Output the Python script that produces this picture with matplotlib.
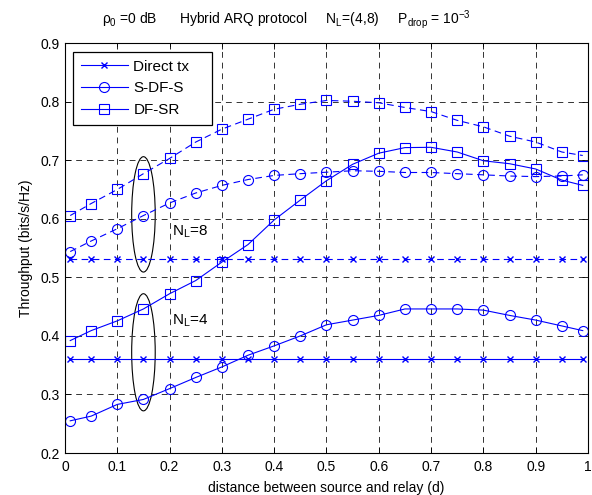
import matplotlib
matplotlib.use("Agg")
import matplotlib.pyplot as plt
from matplotlib.patches import Ellipse

plt.rcParams['font.family'] = ['Liberation Sans', 'DejaVu Sans']
plt.rcParams['mathtext.fontset'] = 'custom'
plt.rcParams['mathtext.rm'] = 'Liberation Sans'
plt.rcParams['mathtext.it'] = 'Liberation Sans'

d = [0.01, 0.05, 0.1, 0.15, 0.2, 0.25, 0.3, 0.35, 0.4, 0.45, 0.5,
     0.55, 0.6, 0.65, 0.7, 0.75, 0.8, 0.85, 0.9, 0.95, 0.99]

direct_4 = [0.36] * 21
direct_8 = [0.531] * 21

sdfs_4 = [0.255, 0.263, 0.283, 0.2915, 0.310, 0.329, 0.347, 0.367, 0.383, 0.400, 0.419,
          0.427, 0.435, 0.446, 0.446, 0.446, 0.444, 0.435, 0.427, 0.417, 0.409]
sdfs_8 = [0.544, 0.562, 0.583, 0.6055, 0.627, 0.644, 0.657, 0.667, 0.674, 0.677, 0.6795,
          0.682, 0.681, 0.679, 0.679, 0.677, 0.675, 0.673, 0.672, 0.673, 0.675]
dfsr_4 = [0.392, 0.409, 0.4257, 0.446, 0.472, 0.4945, 0.526, 0.556, 0.598, 0.632, 0.665,
          0.693, 0.712, 0.7215, 0.722, 0.714, 0.699, 0.694, 0.685, 0.666, 0.657]
dfsr_8 = [0.6055, 0.626, 0.650, 0.677, 0.703, 0.731, 0.753, 0.770, 0.787, 0.7955, 0.802,
          0.8007, 0.798, 0.790, 0.783, 0.768, 0.757, 0.741, 0.731, 0.714, 0.708]

xticks = [0, 0.1, 0.2, 0.3, 0.4, 0.5, 0.6, 0.7, 0.8, 0.9, 1]
yticks = [0.2, 0.3, 0.4, 0.5, 0.6, 0.7, 0.8, 0.9]

blue = (0, 0, 1)
fig = plt.figure(figsize=(5.92, 4.95), dpi=100)
ax = fig.add_axes([0.1098, 0.0848, 0.8834, 0.8282])

lw = 0.8
ms_o = 7.2
ms_s = 7.2
ms_x = 4
dash = (0, (6, 4))

ax.plot(d, direct_4, color=blue, lw=lw, marker='x', ms=ms_x, label='Direct tx')
ax.plot(d, sdfs_4, color=blue, lw=lw, marker='o', ms=ms_o, mfc='none', mew=0.8, label='S-DF-S')
ax.plot(d, dfsr_4, color=blue, lw=lw, marker='s', ms=ms_s, mfc='none', mew=0.8, label='DF-SR')
ax.plot(d, direct_8, color=blue, lw=lw, ls=dash, marker='x', ms=ms_x)
ax.plot(d, sdfs_8, color=blue, lw=lw, ls=dash, marker='o', ms=ms_o, mfc='none', mew=0.8)
ax.plot(d, dfsr_8, color=blue, lw=lw, ls=dash, marker='s', ms=ms_s, mfc='none', mew=0.8)

ax.add_patch(Ellipse((0.15, 0.6075), 0.045, 0.197, fill=False, ec='black', lw=0.8))
ax.add_patch(Ellipse((0.15, 0.372), 0.045, 0.2, fill=False, ec='black', lw=0.8))
ax.text(0.205, 0.578, r'N$_\mathregular{L}$=8', fontsize=11, va='center', ha='left')
ax.text(0.205, 0.425, r'N$_\mathregular{L}$=4', fontsize=11, va='center', ha='left')

ax.set_xlim(0, 1)
ax.set_ylim(0.2, 0.9)
ax.set_xticks(xticks)
ax.set_yticks(yticks)
ax.set_xticklabels([f'{t:g}' for t in xticks])
ax.set_yticklabels([f'{t:g}' for t in yticks])
ax.tick_params(direction='in', top=True, right=True, labelsize=10, length=4, width=0.6)
ax.tick_params(axis='x', pad=5)
ax.tick_params(axis='y', pad=4)
ax.grid(True, color='#333333', ls=(0, (6, 5)), lw=0.7)
for s in ax.spines.values():
    s.set_linewidth(0.8)

ax.set_xlabel('distance between source and relay (d)', fontsize=10, labelpad=5)
ax.set_ylabel('Throughput (bits/s/Hz)', fontsize=10, labelpad=5)
fig.text(286 / 592, 1 - 24 / 495,
         r'$\rho_\mathregular{0}$ =0 dB      Hybrid ARQ protocol     N$_\mathregular{L}$=(4,8)     P$_\mathregular{drop}$ = 10$^\mathregular{-3}$',
         fontsize=10, ha='center', va='baseline')

leg = ax.legend(loc='upper left', fontsize=11, frameon=True, fancybox=False,
                edgecolor='black', handlelength=3.1, borderaxespad=0.0, borderpad=0.5,
                bbox_to_anchor=(0.0153, 0.795, 0.2658, 0.183), mode='expand',
                labelspacing=0.5, handletextpad=0.35, framealpha=1)
leg.get_frame().set_linewidth(0.9)

fig.savefig('out.png', dpi=100)
